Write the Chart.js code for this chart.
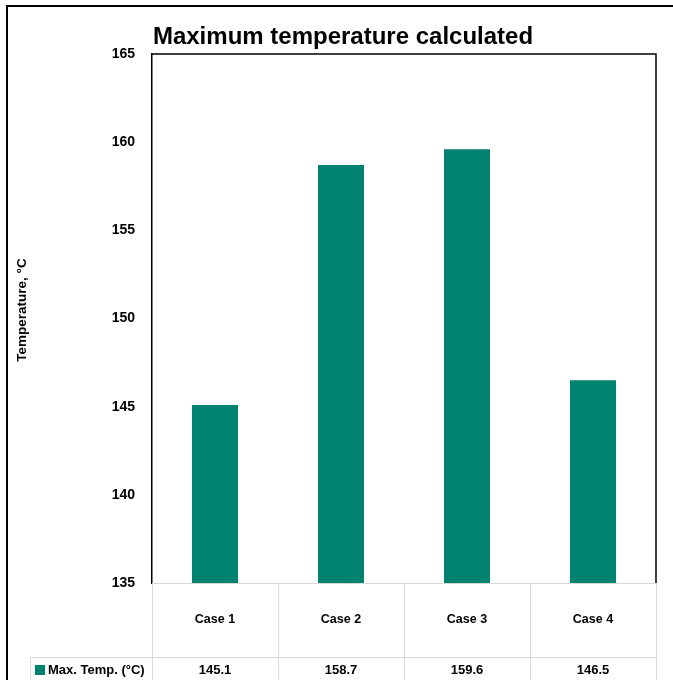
<!DOCTYPE html>
<html>
<head>
<meta charset="utf-8">
<title>Maximum temperature calculated</title>
<script src="https://cdn.jsdelivr.net/npm/chart.js@4/dist/chart.umd.min.js"></script>
<style>
  html, body { margin: 0; padding: 0; background: #fff; }
  #wrap { width: 673px; height: 680px; }
</style>
</head>
<body>
<div id="wrap"><canvas id="chart" width="673" height="680"></canvas></div>
<script>
// Data
const categories = ['Case 1', 'Case 2', 'Case 3', 'Case 4'];
const seriesName = 'Max. Temp. (°C)';
const maxTemp = [145.1, 158.7, 159.6, 146.5];
const yTicks = [135, 140, 145, 150, 155, 160, 165];

const chartTitle = 'Maximum temperature calculated';
const yTitle = 'Temperature, °C';

const TEAL = '#008270';
const GRID_GRAY = '#d9d9d9';
const FONT = '"Liberation Sans", Arial, sans-serif';

// Outer frame, titles, plot box and the data table under the bars
const framePlugin = {
  id: 'frameAndTable',
  beforeDraw(chart) {
    const ctx = chart.ctx;
    ctx.save();
    ctx.fillStyle = '#fff';
    ctx.fillRect(0, 0, chart.width, chart.height);
    ctx.strokeStyle = '#000';
    ctx.lineWidth = 2;
    ctx.strokeRect(7, 6, chart.width + 20, chart.height + 20);
    ctx.restore();
  },
  afterDraw(chart) {
    const ctx = chart.ctx;
    const area = chart.chartArea;
    const x = chart.scales.x;
    const n = categories.length;
    const cellW = (area.right - area.left) / n;
    const headerBottom = 657;
    const valueY = 670;

    ctx.save();

    // chart title
    ctx.fillStyle = '#000';
    ctx.font = 'bold 24px ' + FONT;
    ctx.textAlign = 'center';
    ctx.textBaseline = 'alphabetic';
    ctx.fillText(chartTitle, 343, 43.5);

    // vertical axis title
    ctx.save();
    ctx.translate(22, 310);
    ctx.rotate(-Math.PI / 2);
    ctx.font = 'bold 13.5px ' + FONT;
    ctx.textBaseline = 'middle';
    ctx.fillText(yTitle, 0, 0);
    ctx.restore();

    // table grid
    ctx.strokeStyle = GRID_GRAY;
    ctx.lineWidth = 1;
    ctx.beginPath();
    ctx.moveTo(area.left, area.bottom + 0.5);
    ctx.lineTo(area.right, area.bottom + 0.5);
    ctx.moveTo(30, headerBottom + 0.5);
    ctx.lineTo(area.right, headerBottom + 0.5);
    for (let i = 0; i <= n; i++) {
      const bx = Math.round(x.getPixelForValue(0) - cellW / 2 + i * cellW) + 0.5;
      ctx.moveTo(bx, area.bottom);
      ctx.lineTo(bx, chart.height);
    }
    ctx.moveTo(30.5, headerBottom);
    ctx.lineTo(30.5, chart.height);
    ctx.stroke();

    // plot box: top and right edges
    ctx.strokeStyle = '#000';
    ctx.lineWidth = 1.5;
    ctx.beginPath();
    ctx.moveTo(area.left, area.top);
    ctx.lineTo(area.right, area.top);
    ctx.lineTo(area.right, area.bottom);
    ctx.stroke();

    // category header row
    ctx.fillStyle = '#000';
    ctx.textAlign = 'center';
    ctx.textBaseline = 'middle';
    ctx.font = 'bold 12.5px ' + FONT;
    categories.forEach((c, i) => {
      ctx.fillText(c, x.getPixelForValue(i), (area.bottom + headerBottom) / 2);
    });

    // value row
    ctx.font = 'bold 13px ' + FONT;
    maxTemp.forEach((v, i) => {
      ctx.fillText(v.toFixed(1), x.getPixelForValue(i), valueY);
    });

    // legend key + series name
    ctx.fillStyle = TEAL;
    ctx.fillRect(35, 665, 10, 10);
    ctx.fillStyle = '#000';
    ctx.textAlign = 'left';
    ctx.fillText(seriesName, 48, valueY);

    ctx.restore();
  }
};

new Chart(document.getElementById('chart'), {
  type: 'bar',
  data: {
    labels: categories,
    datasets: [{
      label: seriesName,
      data: maxTemp,
      backgroundColor: TEAL,
      borderWidth: 0,
      barPercentage: 0.365,
      categoryPercentage: 1
    }]
  },
  options: {
    responsive: false,
    animation: false,
    devicePixelRatio: 1,
    layout: { padding: { top: 54, right: 17, bottom: 97, left: 0 } },
    plugins: {
      legend: { display: false },
      title: { display: false },
      tooltip: { enabled: false }
    },
    scales: {
      x: {
        display: false
      },
      y: {
        min: yTicks[0],
        max: yTicks[yTicks.length - 1],
        afterBuildTicks(scale) {
          scale.ticks = yTicks.map(v => ({ value: v }));
        },
        afterFit(scale) { scale.width = 152; },
        grid: { display: false, drawTicks: false },
        border: { display: true, color: '#000', width: 1.5 },
        ticks: {
          padding: 17,
          color: '#000',
          font: { family: FONT, size: 14, weight: 'bold' }
        }
      }
    }
  },
  plugins: [framePlugin]
});
</script>
</body>
</html>
